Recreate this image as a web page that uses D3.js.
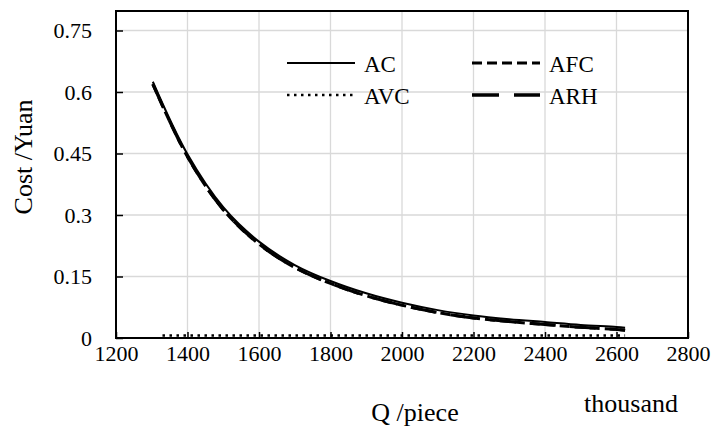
<!DOCTYPE html>
<html>
<head>
<meta charset="utf-8">
<script src="https://cdn.jsdelivr.net/npm/d3@7/dist/d3.min.js"></script>
<style>
body{margin:0;background:#fff;}
svg{display:block;}
svg text{font-family:"Liberation Serif","Times New Roman",serif !important;}
</style>
</head>
<body>
<svg width="712" height="429"></svg>
<script>
// quantities (thousand pieces)
var qValues=[1303,1400,1500,1600,1700,1800,1900,2000,2100,2200,2300,2400,2500,2600,2624];
var acValues=[0.625,0.448,0.319,0.235,0.178,0.139,0.109,0.086,0.068,0.055,0.046,0.039,0.032,0.027,0.025];
var afcValues=[0.619,0.442,0.313,0.229,0.172,0.133,0.103,0.080,0.062,0.049,0.040,0.033,0.026,0.021,0.019];
var arhValues=[0.619,0.442,0.313,0.229,0.172,0.133,0.103,0.080,0.062,0.049,0.040,0.033,0.026,0.021,0.019];
var avcQ=[1330,2624];
var avcValues=[0.006,0.006];

var xTicks=[1200,1400,1600,1800,2000,2200,2400,2600,2800];
var yTicks=[0,0.15,0.3,0.45,0.6,0.75];
var yTickLabels=["0","0.15","0.3","0.45","0.6","0.75"];

var svg=d3.select("svg");
var plotLeft=116, plotRight=688, plotTop=10, plotBottom=338;

var x=d3.scaleLinear().domain([1200,2800]).range([plotLeft,plotRight]);
var y=d3.scaleLinear().domain([0,0.8]).range([plotBottom,plotTop]);

// grid
svg.append("g")
.selectAll("line")
.data(xTicks)
.enter()
.append("line")
.attr("x1",function(d){return x(d);})
.attr("x2",function(d){return x(d);})
.attr("y1",plotTop)
.attr("y2",plotBottom)
.attr("stroke","#d9d9d9")
.attr("stroke-width",1.3);

svg.append("g")
.selectAll("line")
.data(yTicks)
.enter()
.append("line")
.attr("x1",plotLeft)
.attr("x2",plotRight)
.attr("y1",function(d){return y(d);})
.attr("y2",function(d){return y(d);})
.attr("stroke","#d9d9d9")
.attr("stroke-width",1.3);

// axes with inside ticks
var xAxis=d3.axisBottom(x).tickValues(xTicks).tickSize(-6).tickPadding(16).tickFormat(d3.format("d"));
var gx=svg.append("g").attr("transform","translate(0,"+plotBottom+")").call(xAxis)
.attr("font-size",22);
gx.select(".domain").remove();
gx.selectAll("line").attr("stroke","#000").attr("stroke-width",1.5);
gx.selectAll("text").attr("fill","#000").attr("dy","0.3em");

var yAxis=d3.axisLeft(y).tickValues(yTicks).tickSize(-7).tickPadding(24)
.tickFormat(function(d,i){return yTickLabels[i];});
var gy=svg.append("g").attr("transform","translate("+plotLeft+",0)").call(yAxis)
.attr("font-size",22);
gy.select(".domain").remove();
gy.selectAll("line").attr("stroke","#000").attr("stroke-width",1.5);
gy.selectAll("text").attr("fill","#000");

// frame
svg.append("rect")
.attr("x",plotLeft)
.attr("y",plotTop+1)
.attr("width",plotRight-plotLeft)
.attr("height",plotBottom-plotTop-1)
.attr("fill","none")
.attr("stroke","#000")
.attr("stroke-width",2);

// series
var line=d3.line()
.x(function(d){return x(d[0]);})
.y(function(d){return y(d[1]);})
.curve(d3.curveCatmullRom);

var zip=function(a,b){return a.map(function(v,i){return [v,b[i]];});};

svg.append("path").datum(zip(avcQ,avcValues)).attr("d",line)
.attr("fill","none").attr("stroke","#000").attr("stroke-width",2.5).attr("stroke-dasharray","2.5,4.5");
svg.append("path").datum(zip(qValues,arhValues)).attr("d",line)
.attr("fill","none").attr("stroke","#000").attr("stroke-width",3).attr("stroke-dasharray","26,14");
svg.append("path").datum(zip(qValues,afcValues)).attr("d",line)
.attr("fill","none").attr("stroke","#000").attr("stroke-width",3).attr("stroke-dasharray","10,5");
svg.append("path").datum(zip(qValues,acValues)).attr("d",line)
.attr("fill","none").attr("stroke","#000").attr("stroke-width",2);

// legend
var legendNames=["AC","AFC","AVC","ARH"];
var legendX=[287,472,287,472];
var legendY=[63,63,95,95];
var legendDash=[null,"10,5","2.5,4.5","27,15"];
var legendWidth=[2,3,2.5,3.3];

var lg=svg.append("g");
lg.selectAll("line")
.data(legendNames)
.enter()
.append("line")
.attr("x1",function(d,i){return legendX[i];})
.attr("x2",function(d,i){return legendX[i]+68;})
.attr("y1",function(d,i){return legendY[i];})
.attr("y2",function(d,i){return legendY[i];})
.attr("stroke","#000")
.attr("stroke-width",function(d,i){return legendWidth[i];})
.attr("stroke-dasharray",function(d,i){return legendDash[i];});
lg.selectAll("text")
.data(legendNames)
.enter()
.append("text")
.text(function(d){return d;})
.attr("x",function(d,i){return legendX[i]+77;})
.attr("y",function(d,i){return legendY[i]+9;})
.attr("font-size",23);

// titles
svg.append("text").text("Cost /Yuan")
.attr("transform","translate(32,157) rotate(-90)")
.attr("text-anchor","middle")
.attr("font-size",26);
svg.append("text").text("Q /piece")
.attr("x",415).attr("y",421)
.attr("text-anchor","middle")
.attr("font-size",26);
svg.append("text").text("thousand")
.attr("x",631).attr("y",412)
.attr("text-anchor","middle")
.attr("font-size",26);
</script>
</body>
</html>
